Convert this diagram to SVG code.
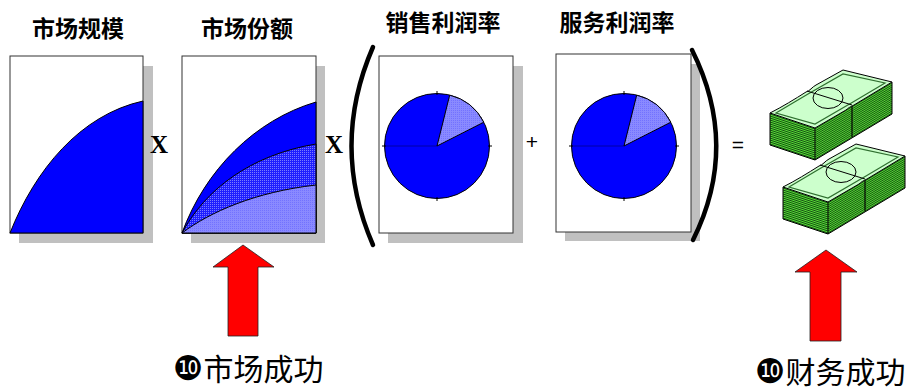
<svg xmlns="http://www.w3.org/2000/svg" width="914" height="392" viewBox="0 0 914 392">
  <style>
    .title { font-family: "Noto Sans CJK SC", "Liberation Sans", sans-serif; font-weight: bold; font-size: 23px; fill: #000; text-anchor: middle; }
    .op { font-family: "Liberation Serif", serif; font-weight: bold; font-size: 25px; fill: #000; text-anchor: middle; }
    .sym { font-family: "Liberation Sans", sans-serif; font-size: 21px; fill: #000; text-anchor: middle; }
    .label { font-family: "Noto Sans CJK SC", "Liberation Sans", sans-serif; font-size: 30px; fill: #000; }
    .num { font-family: "DejaVu Sans", sans-serif; font-size: 34px; }
    .shadow { fill: #c0c0c0; }
    .panel { fill: #ffffff; stroke: #333333; stroke-width: 1; }
    .curve { stroke: #000; stroke-width: 1; }
    .paren { fill: none; stroke: #000; stroke-width: 4.5; stroke-linecap: round; }
    .arrow { fill: #ff0000; stroke: #222; stroke-width: 0.8; }
    .layers { fill: none; stroke: #123d12; stroke-width: 0.9; }
  </style>
  <defs>
    <pattern id="dotsLight" width="2" height="2" patternUnits="userSpaceOnUse">
      <rect width="2" height="2" fill="#8a8aff"/>
      <rect width="1" height="1" fill="#7272ff"/>
    </pattern>
    <pattern id="dotsMid" width="2" height="2" patternUnits="userSpaceOnUse">
      <rect width="2" height="2" fill="#1e1eff"/>
      <rect width="1" height="1" fill="#7a7aff"/>
    </pattern>
    <!-- pie chart centred on the origin -->
    <g id="pie">
      <circle r="52.5" fill="#0000ff" stroke="#000" stroke-width="1"/>
      <line x1="-52.5" y1="0" x2="0" y2="0" stroke="#000080" stroke-width="0.7"/>
      <path d="M0,0 L12.7,-50.9 A52.5,52.5 0 0,1 46.8,-23.8 Z" fill="url(#dotsLight)" stroke="#000" stroke-width="1"/>
      <path d="M-55,0 H-51 M51,0 H55 M0,-55 V-51 M0,51 V55" stroke="#000" stroke-width="1"/>
    </g>
    <!-- stack of bank notes, left corner of top face at the origin -->
    <g id="stack">
      <path d="M0,0 L45,15 L45,47 L0,32 Z" fill="#55dd33"/>
      <path d="M45,15 L122,-31 L122,1 L45,47 Z" fill="#55dd33"/>
      <path class="layers" d="M0,1 L45,16 L122,-30 M0,3 L45,18 L122,-28 M0,5 L45,20 L122,-26 M0,7 L45,22 L122,-24 M0,9 L45,24 L122,-22 M0,11 L45,26 L122,-20 M0,13 L45,28 L122,-18 M0,15 L45,30 L122,-16 M0,17 L45,32 L122,-14 M0,19 L45,34 L122,-12 M0,21 L45,36 L122,-10 M0,23 L45,38 L122,-8 M0,25 L45,40 L122,-6 M0,27 L45,42 L122,-4 M0,29 L45,44 L122,-2 M0,31 L45,46 L122,0"/>
      <path d="M0,0 V32 L45,47 L122,1 V-31 M45,15 V47" fill="none" stroke="#000" stroke-width="1"/>
      <line x1="82" y1="-8" x2="82" y2="24" stroke="#000" stroke-width="1.2"/>
      <!-- top note -->
      <path d="M0,0 C12,-6 25,-14 36,-21 C40,-22 42,-26 46,-28 L73,-43 L122,-31 L84,-8 C80,-6 78,-5 76,-3 L45,15 Z" fill="#ccffcc" stroke="#000" stroke-width="1"/>
      <path d="M6,0 L38,-19 L73,-39 L115,-30 L83,-11 L45,11 Z" fill="none" stroke="#2f6f2f" stroke-width="1.2"/>
      <ellipse cx="58" cy="-15" rx="15" ry="10.5" fill="none" stroke="#000" stroke-width="1"/>
      <path d="M37,-22 L82,-8" fill="none" stroke="#000" stroke-width="1"/>
    </g>
  </defs>

  <!-- titles -->
  <text class="title" x="78" y="37">市场规模</text>
  <text class="title" x="247" y="37">市场份额</text>
  <text class="title" x="443" y="31">销售利润率</text>
  <text class="title" x="617" y="31">服务利润率</text>

  <!-- market size -->
  <g id="market-size">
    <rect class="shadow" x="19" y="66" width="134" height="177"/>
    <rect class="panel" x="10" y="56" width="133" height="177"/>
    <path class="curve" d="M10,233 C35,170 80,115 143,101 L143,233 Z" fill="#0000ff"/>
  </g>

  <!-- market share -->
  <g id="market-share">
    <rect class="shadow" x="191" y="66" width="134" height="177"/>
    <rect class="panel" x="182" y="56" width="134" height="177"/>
    <path class="curve" d="M182,233 C205,170 255,120 316,102 L316,233 Z" fill="#0000ff"/>
    <path class="curve" d="M182,233 C205,190 250,155 316,144 L316,233 Z" fill="url(#dotsMid)"/>
    <path class="curve" d="M182,233 C210,212 255,192 316,185 L316,233 Z" fill="url(#dotsLight)"/>
  </g>

  <!-- sales margin -->
  <g id="sales-margin">
    <rect class="shadow" x="388" y="66" width="135" height="177"/>
    <rect class="panel" x="379" y="56" width="134" height="177"/>
    <use href="#pie" transform="translate(437,146)"/>
  </g>

  <!-- service margin -->
  <g id="service-margin">
    <rect class="shadow" x="565" y="64" width="135" height="177"/>
    <rect class="panel" x="556" y="54" width="135" height="178"/>
    <use href="#pie" transform="translate(624,146)"/>
  </g>

  <!-- operators -->
  <g id="operators">
    <text class="op" x="159" y="153">X</text>
    <text class="op" x="334" y="153">X</text>
    <text class="sym" x="532" y="149">+</text>
    <text class="sym" x="738" y="152">=</text>
    <path class="paren" d="M373,47 Q330,146 373,245"/>
    <path class="paren" d="M692,50 Q740,146 693,240"/>
  </g>

  <!-- money -->
  <g id="money">
    <use href="#stack" transform="translate(770,113)"/>
    <use href="#stack" transform="translate(783,187)"/>
  </g>

  <!-- arrows -->
  <g id="connectors">
    <path class="arrow" d="M243,245 L274,267 L258,267 L258,336 L228,336 L228,267 L213,267 Z"/>
    <path class="arrow" d="M826,250 L857,272 L841,272 L841,341 L810,341 L810,272 L795,272 Z"/>
  </g>

  <!-- outcomes -->
  <g id="market-success">
    <text class="label" x="173" y="380"><tspan class="num">❿</tspan>市场成功</text>
  </g>
  <g id="financial-success">
    <text class="label" x="755" y="383"><tspan class="num">❿</tspan>财务成功</text>
  </g>
</svg>
